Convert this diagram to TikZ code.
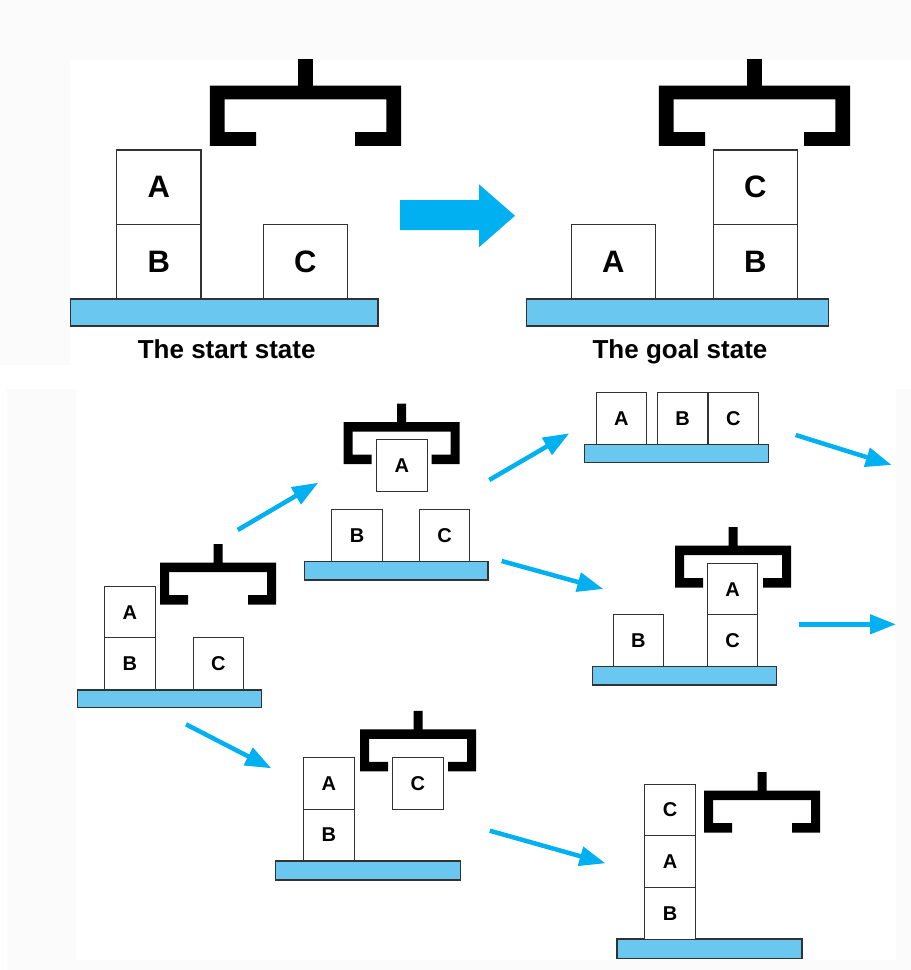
\documentclass[tikz,border=0pt]{standalone}
\usepackage{fontspec}
\setmainfont{Liberation Sans}
\usetikzlibrary{arrows.meta}
\definecolor{arrowblue}{RGB}{0,176,240}
\definecolor{tableblue}{RGB}{106,200,240}
\definecolor{edgegray}{RGB}{50,50,50}
\definecolor{bggray}{RGB}{251,251,251}
\tikzset{
  bigblock/.style={draw=edgegray, line width=1.1pt, fill=white, minimum width=84.5pt, minimum height=74.5pt, inner sep=0pt, outer sep=0pt, font=\fontsize{31}{31}\selectfont\bfseries},
  smallblock/.style={draw=edgegray, line width=1pt, fill=white, minimum width=50.5pt, minimum height=51.7pt, inner sep=0pt, outer sep=0pt, font=\fontsize{20}{20}\selectfont\bfseries},
  tablebar/.style={draw=edgegray, line width=1.3pt, fill=tableblue, inner sep=0pt, outer sep=0pt},
  statelabel/.style={font=\fontsize{26}{26}\selectfont\bfseries, inner sep=0pt, anchor=base},
  movearrow/.style={draw=arrowblue, line width=4.5pt, -{Triangle[length=26pt,width=19pt]}},
  pics/gripper/.style={code={
    \fill[black] (-4.5,-18.5) -- (4.5,-18.5) -- (4.5,0) -- (58,0) -- (58,42) -- (30,42) -- (30,32.5) -- (49,32.5) -- (49,9.5) -- (-49,9.5) -- (-49,32.5) -- (-30,32.5) -- (-30,42) -- (-58,42) -- (-58,0) -- (-4.5,0) -- cycle;
  }}
}
\begin{document}
\begin{tikzpicture}[x=1pt,y=-1pt]
\useasboundingbox (0,0) rectangle (911,970);
% faint background panels
\fill[bggray] (0,0) rectangle (911,60);
\fill[bggray] (0,60) rectangle (70,365);
\fill[bggray] (7,389) rectangle (76,970);
\fill[bggray] (896,389) rectangle (911,970);
\fill[bggray] (76,960) rectangle (896,970);

% ===== Start state =====
\pic[xscale=1.65,yscale=1.43] at (305.5,85.7) {gripper};
\node[tablebar, minimum width=307.3pt, minimum height=27pt] (tS) at (224.3,312.5) {};
\node[bigblock] (sA) at (158.7,187.2) {A};
\node[bigblock] (sB) at (158.7,261.7) {B};
\node[bigblock] (sC) at (305.3,261.7) {C};
\node[statelabel] (lblS) at (226.7,358.3) {The start state};

% big arrow
\fill[arrowblue] (400,200) -- (479,200) -- (479,184.3) -- (515,215.7) -- (479,247.3) -- (479,230) -- (400,230) -- cycle;

% ===== Goal state =====
\pic[xscale=1.65,yscale=1.43] at (754.5,85.7) {gripper};
\node[tablebar, minimum width=302pt, minimum height=27pt] (tG) at (677.7,312.5) {};
\node[bigblock] (gA) at (613.3,261.7) {A};
\node[bigblock] (gC) at (755.3,187.2) {C};
\node[bigblock] (gB) at (755.3,261.7) {B};
\node[statelabel] (lblG) at (680,358.3) {The goal state};

% ===== Search: initial =====
\pic at (218,562.7) {gripper};
\node[tablebar, minimum width=184pt, minimum height=17.7pt] (t0) at (169.7,698.8) {};
\node[smallblock] (i0A) at (129.8,612.2) {A};
\node[smallblock] (i0B) at (129.8,663.8) {B};
\node[smallblock] (i0C) at (218.3,663.8) {C};

% ===== upper middle: holding A =====
\pic at (401.5,422) {gripper};
\node[smallblock] (u1A) at (401.8,465.3) {A};
\node[tablebar, minimum width=183.7pt, minimum height=18.3pt] (t1) at (396.2,570.8) {};
\node[smallblock] (u1B) at (357,535.8) {B};
\node[smallblock] (u1C) at (444.7,535.8) {C};

% ===== top right: A, B, C on table =====
\node[tablebar, minimum width=184pt, minimum height=18pt] (t2) at (676.3,453.3) {};
\node[smallblock] (r2A) at (621.3,418.3) {A};
\node[smallblock] (r2B) at (682.5,418.3) {B};
\node[smallblock] (r2C) at (733.3,418.3) {C};

% ===== middle right: A on C, gripper holding A =====
\pic at (733,545.7) {gripper};
\node[tablebar, minimum width=184pt, minimum height=18.3pt] (t3) at (684.7,675.8) {};
\node[smallblock] (m3A) at (732.5,589.2) {A};
\node[smallblock] (m3C) at (732.5,640.8) {C};
\node[smallblock] (m3B) at (638.3,640.8) {B};

% ===== bottom middle: holding C =====
\pic at (418,729.3) {gripper};
\node[smallblock] (b4C) at (417.8,783.3) {C};
\node[tablebar, minimum width=185.4pt, minimum height=19pt] (t4) at (368.1,870.5) {};
\node[smallblock] (b4A) at (328.9,783.3) {A};
\node[smallblock] (b4B) at (328.9,835) {B};

% ===== bottom right: C on A on B =====
\pic at (762.2,790.7) {gripper};
\node[tablebar, minimum width=184.9pt, minimum height=19.3pt] (t5) at (709.5,948.7) {};
\node[smallblock] (b5C) at (670.2,810) {C};
\node[smallblock] (b5A) at (670.2,861.8) {A};
\node[smallblock] (b5B) at (670.2,913.3) {B};

% ===== arrows =====
\coordinate (a1s) at (237.7,530);   \coordinate (a1e) at (318.3,482.7);
\coordinate (a2s) at (489.3,480);   \coordinate (a2e) at (569.3,433.3);
\coordinate (a3s) at (795.7,435);   \coordinate (a3e) at (891.7,465);
\coordinate (a4s) at (501.7,561);   \coordinate (a4e) at (603.3,589);
\coordinate (a5s) at (799.3,624.3); \coordinate (a5e) at (896,624.3);
\coordinate (a6s) at (186,724.3);   \coordinate (a6e) at (271.3,768.3);
\coordinate (a7s) at (489.8,830.7); \coordinate (a7e) at (605.5,863.3);
\draw[movearrow] (a1s) -- (a1e);
\draw[movearrow] (a2s) -- (a2e);
\draw[movearrow] (a3s) -- (a3e);
\draw[movearrow] (a4s) -- (a4e);
\draw[movearrow] (a5s) -- (a5e);
\draw[movearrow] (a6s) -- (a6e);
\draw[movearrow] (a7s) -- (a7e);
\end{tikzpicture}
\end{document}
